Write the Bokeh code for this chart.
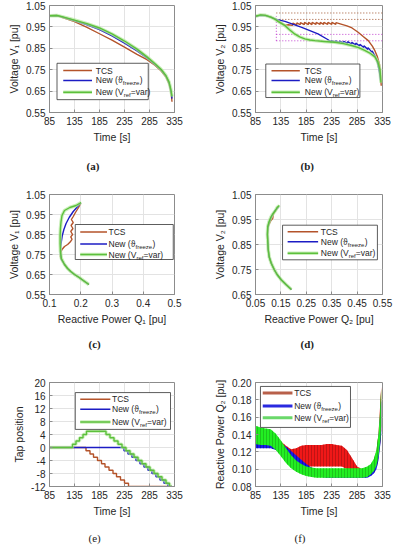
from bokeh.plotting import figure
from bokeh.layouts import gridplot
from bokeh.models import FixedTicker, PrintfTickFormatter, Title
from bokeh.core.properties import value
from bokeh.embed import file_html
from bokeh.resources import INLINE

# ---------------- data ----------------
# (a) Voltage V1 vs time
time_a = [85, 100, 110, 135, 160, 185, 210, 235, 260, 280, 295, 308, 318, 324, 327, 329, 330]
v1_tcs = [1.002, 1.003, 0.995, 0.975, 0.948, 0.918, 0.888, 0.855, 0.822, 0.797, 0.772, 0.745, 0.715, 0.685, 0.655, 0.625, 0.600]
v1_frz = [1.002, 1.003, 0.997, 0.980, 0.960, 0.937, 0.908, 0.874, 0.838, 0.805, 0.777, 0.750, 0.720, 0.690, 0.660, 0.635, 0.615]
v1_var = [1.002, 1.003, 0.998, 0.982, 0.965, 0.945, 0.917, 0.884, 0.846, 0.810, 0.780, 0.752, 0.722, 0.693, 0.665, 0.640, 0.625]

# (b) Voltage V2 vs time
time_b_tcs = [85, 95, 105, 115, 126, 135, 143, 150, 158, 158.5, 166, 166.5, 173, 173.5, 181, 181.5, 189, 189.5,
              196, 196.5, 204, 204.5, 212, 212.5, 219, 219.5, 227, 227.5, 235, 235.5, 243, 243.5, 255, 265,
              275, 287, 297, 307, 315, 320, 325, 329, 331, 332.5]
v2_tcs = [1.000, 1.005, 1.003, 0.996, 0.984, 0.970, 0.958, 0.960, 0.957, 0.968, 0.959, 0.969, 0.960, 0.970, 0.961, 0.971,
          0.961, 0.971, 0.961, 0.971, 0.962, 0.971, 0.962, 0.971, 0.962, 0.971, 0.962, 0.971, 0.962, 0.971, 0.962, 0.970,
          0.962, 0.955, 0.945, 0.925, 0.905, 0.886, 0.860, 0.839, 0.810, 0.776, 0.730, 0.675]
time_b_frz = [85, 95, 105, 115, 126, 143, 176, 208, 228, 234, 234.5, 242, 242.5, 250, 250.5, 258, 258.5, 266, 266.5,
              274, 274.5, 282, 282.5, 290, 290.5, 298, 298.5, 306, 306.5, 314, 314.5, 320, 323, 326, 329, 331]
v2_frz = [1.000, 1.004, 1.003, 0.996, 0.985, 0.976, 0.948, 0.917, 0.890, 0.878, 0.886, 0.877, 0.885, 0.876, 0.884,
          0.875, 0.883, 0.873, 0.881, 0.870, 0.878, 0.866, 0.874, 0.861, 0.869, 0.854, 0.862, 0.845, 0.853, 0.832,
          0.838, 0.815, 0.800, 0.775, 0.740, 0.700]
time_b_var = [85, 95, 105, 115, 122, 130, 143, 152, 162, 172, 182, 192, 202, 220, 241, 258, 274, 288, 300, 310, 320, 326, 330, 332]
v2_var = [1.000, 1.006, 1.004, 0.996, 0.988, 0.975, 0.956, 0.937, 0.917, 0.903, 0.894, 0.889, 0.886, 0.882, 0.878,
          0.872, 0.863, 0.853, 0.840, 0.828, 0.810, 0.785, 0.750, 0.690]
# deadband limits in (b)
band_time = [126, 335]
tcs_upper = [1.015, 1.015]
tcs_lower = [0.985, 0.985]
new_upper = [0.915, 0.915]
new_lower = [0.885, 0.885]
new_marker_v = [0.885, 1.0]

# (c) V1 vs Q1
q1_tcs = [0.200, 0.193, 0.183, 0.176, 0.170, 0.176, 0.169, 0.175, 0.168, 0.174, 0.168, 0.172, 0.166, 0.158, 0.148,
          0.140, 0.136, 0.135, 0.138, 0.148, 0.158, 0.168, 0.180, 0.195, 0.208, 0.217, 0.226]
v1c_tcs = [1.008, 0.985, 0.960, 0.940, 0.925, 0.910, 0.895, 0.880, 0.865, 0.850, 0.838, 0.826, 0.812, 0.800, 0.790,
           0.775, 0.760, 0.740, 0.725, 0.700, 0.680, 0.665, 0.650, 0.635, 0.620, 0.610, 0.600]
q1_frz = [0.200, 0.190, 0.176, 0.163, 0.153, 0.146, 0.141, 0.138, 0.136, 0.135, 0.138, 0.148, 0.158, 0.168, 0.180, 0.195, 0.208, 0.217, 0.226]
v1c_frz = [1.008, 0.990, 0.965, 0.935, 0.905, 0.875, 0.845, 0.815, 0.785, 0.755, 0.725, 0.700, 0.680, 0.665, 0.650, 0.635, 0.620, 0.610, 0.600]
q1_var = [0.201, 0.185, 0.165, 0.148, 0.140, 0.137, 0.135, 0.134, 0.134, 0.135, 0.138, 0.148, 0.158, 0.168, 0.180, 0.195, 0.208, 0.217, 0.226]
v1c_var = [1.010, 0.995, 0.985, 0.970, 0.945, 0.915, 0.880, 0.845, 0.805, 0.765, 0.730, 0.700, 0.680, 0.665, 0.650, 0.635, 0.620, 0.610, 0.600]

# (d) V2 vs Q2
q2_tcs = [0.140, 0.128, 0.120, 0.118, 0.110, 0.104, 0.099, 0.097, 0.098, 0.100, 0.104, 0.112, 0.124, 0.135, 0.151, 0.170, 0.191]
v2d_tcs = [1.000, 0.985, 0.970, 0.955, 0.945, 0.932, 0.918, 0.890, 0.868, 0.830, 0.800, 0.775, 0.749, 0.730, 0.709, 0.690, 0.670]
q2_frz = [0.140, 0.126, 0.114, 0.106, 0.101, 0.098, 0.097, 0.098, 0.100, 0.104, 0.112, 0.124, 0.135, 0.151, 0.170, 0.191]
v2d_frz = [1.000, 0.985, 0.965, 0.945, 0.930, 0.915, 0.890, 0.868, 0.830, 0.800, 0.775, 0.749, 0.730, 0.709, 0.690, 0.670]
q2_var = [0.144, 0.135, 0.128, 0.118, 0.111, 0.103, 0.098, 0.097, 0.098, 0.100, 0.104, 0.112, 0.124, 0.135, 0.151, 0.170, 0.191]
v2d_var = [1.006, 0.998, 0.985, 0.972, 0.960, 0.940, 0.920, 0.890, 0.868, 0.830, 0.800, 0.775, 0.749, 0.730, 0.709, 0.690, 0.670]

# (e) tap position
tap_time_tcs = [85, 158, 166, 173, 181, 189, 196, 204, 212, 219, 227, 235, 243, 330]
tap_tcs = [0, -1, -2, -3, -4, -5, -6, -7, -8, -9, -10, -11, -12, -12]
tap_time_frz = [85, 234, 242, 250, 258, 266, 274, 282, 290, 298, 306, 314, 322, 330]
tap_frz = [0, -1, -2, -3, -4, -5, -6, -7, -8, -9, -10, -11, -12, -12]
tap_time_var = [85, 131, 138, 145, 152, 159, 198, 206, 214, 222, 230, 238, 246, 254, 262, 270, 278, 286, 294, 302, 310, 318, 325, 330]
tap_var = [0, 1, 2, 3, 4, 5, 4, 3, 2, 1, 0, -1, -2, -3, -4, -5, -6, -7, -8, -9, -10, -11, -12, -12]

# (f) reactive power Q2 (oscillation envelopes)
time_f = [85, 95, 105, 115, 125, 135, 145, 155, 165, 175, 185, 195, 205, 215, 225, 235, 245, 255, 265, 275, 285, 295,
          305, 312, 318, 323, 327, 330, 332.5]
q2f_tcs_lo = [0.125, 0.125, 0.125, 0.125, 0.123, 0.120, 0.113, 0.107, 0.103, 0.103, 0.103, 0.103, 0.103, 0.103, 0.103,
              0.103, 0.103, 0.103, 0.100, 0.096, 0.093, 0.091, 0.091, 0.093, 0.097, 0.103, 0.113, 0.128, 0.145]
q2f_tcs_hi = [0.140, 0.140, 0.139, 0.138, 0.136, 0.132, 0.127, 0.123, 0.124, 0.127, 0.128, 0.128, 0.128, 0.128, 0.129,
              0.129, 0.128, 0.127, 0.122, 0.113, 0.103, 0.100, 0.100, 0.104, 0.110, 0.121, 0.140, 0.170, 0.195]
q2f_frz_lo = [0.124, 0.124, 0.124, 0.124, 0.122, 0.118, 0.113, 0.108, 0.103, 0.099, 0.096, 0.093, 0.092, 0.091, 0.090,
              0.090, 0.090, 0.090, 0.090, 0.090, 0.090, 0.090, 0.090, 0.092, 0.095, 0.100, 0.110, 0.125, 0.140]
q2f_frz_hi = [0.136, 0.136, 0.135, 0.134, 0.133, 0.130, 0.126, 0.121, 0.116, 0.111, 0.106, 0.102, 0.100, 0.099, 0.098,
              0.098, 0.098, 0.098, 0.098, 0.098, 0.098, 0.098, 0.099, 0.102, 0.108, 0.118, 0.135, 0.160, 0.180]
q2f_var_lo = [0.129, 0.128, 0.128, 0.127, 0.122, 0.115, 0.107, 0.101, 0.097, 0.094, 0.092, 0.091, 0.090, 0.090, 0.090,
              0.090, 0.090, 0.090, 0.090, 0.090, 0.090, 0.090, 0.091, 0.094, 0.098, 0.104, 0.115, 0.130, 0.150]
q2f_var_hi = [0.150, 0.148, 0.147, 0.146, 0.141, 0.133, 0.124, 0.116, 0.110, 0.106, 0.103, 0.102, 0.101, 0.101, 0.101,
              0.101, 0.101, 0.101, 0.101, 0.101, 0.101, 0.101, 0.103, 0.106, 0.112, 0.122, 0.140, 0.165, 0.193]

# tick values
time_ticks = [85, 135, 185, 235, 285, 335]
v_ticks = [0.55, 0.65, 0.75, 0.85, 0.95, 1.05]
q1_ticks = [0.1, 0.2, 0.3, 0.4, 0.5]
q2_ticks = [0.05, 0.15, 0.25, 0.35, 0.45, 0.55]
v2d_ticks = [0.65, 0.75, 0.85, 0.95, 1.05]
tap_ticks = [-12, -8, -4, 0, 4, 8, 12, 16, 20]
q2f_ticks = [0.08, 0.10, 0.12, 0.14, 0.16, 0.18, 0.20]

# ---------------- style ----------------
FONT = "Liberation Sans"
TCS_C = "#b4532a"
BLUE_C = "#1c1cc4"
GREEN_C = "#5cc03c"
GREEN_HALO = "#b4e89c"
TXT = "#262626"
FRAME = "#8c8c8c"

W1, W2 = 198, 200


def make_fig(w, h, bl, br, bt, bb, xr, yr, xticks, yticks, xfmt, yfmt, xlabel, ylabel):
    p = figure(width=w, height=h, x_range=xr, y_range=yr, output_backend="svg",
               toolbar_location=None, title=None,
               min_border_left=bl, min_border_right=br, min_border_top=bt, min_border_bottom=bb)
    p.background_fill_color = "white"
    p.border_fill_color = "white"
    p.outline_line_color = FRAME
    p.outline_line_width = 1
    for ax, ticks, fmt, lab in ((p.xaxis, xticks, xfmt, xlabel), (p.yaxis, yticks, yfmt, ylabel)):
        ax.ticker = FixedTicker(ticks=ticks)
        ax.formatter = PrintfTickFormatter(format=fmt)
        ax.axis_label = lab
        ax.axis_label_text_font = FONT
        ax.axis_label_text_font_size = "10.5px"
        ax.axis_label_text_font_style = "normal"
        ax.axis_label_text_color = TXT
        ax.major_label_text_font = FONT
        ax.major_label_text_font_size = "10px"
        ax.major_label_text_color = TXT
        ax.axis_line_color = FRAME
        ax.major_tick_line_color = FRAME
        ax.major_tick_in = 3
        ax.major_tick_out = 0
        ax.minor_tick_line_color = None
        ax.major_label_standoff = 4
        ax.axis_label_standoff = 3
    p.xgrid.ticker = FixedTicker(ticks=xticks)
    p.ygrid.ticker = FixedTicker(ticks=yticks)
    p.xgrid.grid_line_color = "#e3e3e3"
    p.ygrid.grid_line_color = "#e3e3e3"
    return p


def fx(r, f):
    return r[0] + f * (r[1] - r[0])


def fy(r, f):
    return r[1] - f * (r[1] - r[0])


LABEL_TCS = [("TCS", 0, 0, "8.5px")]
LABEL_FRZ = [("New (ϑ", 0, 0, "8.5px"), ("freeze", 27, 3, "6px"), (")", 44, 0, "8.5px")]
LABEL_VAR = [("New (V", 0, 0, "8.5px"), ("ref", 28, 3, "6px"), ("=var)", 35, 0, "8.5px")]


def add_legend(p, xr, yr, box, sw, tx, ys, colors, halo=True, sw_width=1.5):
    p.quad(left=fx(xr, box[0]), right=fx(xr, box[1]), top=fy(yr, box[2]), bottom=fy(yr, box[3]),
           fill_color="white", line_color="#333333", line_width=0.8)
    labels = [LABEL_TCS, LABEL_FRZ, LABEL_VAR]
    for i, (col, yy, pieces) in enumerate(zip(colors, ys, labels)):
        y = fy(yr, yy)
        if halo and i == 2:
            p.segment(fx(xr, sw[0]), y, fx(xr, sw[1]), y, line_color=GREEN_HALO, line_width=3.5, line_alpha=0.7)
        p.segment(fx(xr, sw[0]), y, fx(xr, sw[1]), y, line_color=col, line_width=sw_width)
        for txt, dx, dy, size in pieces:
            p.text(x=[fx(xr, tx)], y=[y], text=[txt], x_offset=dx, y_offset=dy,
                   text_font=value(FONT), text_font_size=size, text_color=TXT,
                   text_baseline="middle", text_align="left")


def caption(p, text, offset, gap, bold=True):
    # an empty spacer title pushes the caption further below the axis label
    p.add_layout(Title(text="\u00a0", text_font_size=f"{gap}px", text_font=FONT, standoff=0), "below")
    p.add_layout(Title(text=text, align="left", offset=offset,
                       text_font="Liberation Serif", text_font_size="11px",
                       text_font_style="bold" if bold else "normal", text_color="#222222"), "below")


def draw_lines(p, series):
    for xs, ys, col, halo in series:
        if halo:
            p.line(xs, ys, line_color=GREEN_HALO, line_width=3.5, line_alpha=0.7)
        p.line(xs, ys, line_color=col, line_width=1.4)


# ---------------- (a) ----------------
xr_t = (85, 335)
yr_v = (0.55, 1.05)
pa = make_fig(W1, 182, 49, 21, 5, 70, xr_t, yr_v, time_ticks, v_ticks, "%d", "%.2f", "Time [s]", "Voltage V₁ [pu]")
draw_lines(pa, [(time_a, v1_tcs, TCS_C, False), (time_a, v1_frz, BLUE_C, False), (time_a, v1_var, GREEN_C, True)])
add_legend(pa, xr_t, yr_v, (0.06, 0.79, 0.54, 0.88), (0.11, 0.34), 0.37, (0.608, 0.70, 0.81),
           (TCS_C, BLUE_C, GREEN_C))
caption(pa, "(a)", 37, 4)

# ---------------- (b) ----------------
pb = make_fig(W2, 182, 57, 16, 5, 70, xr_t, yr_v, time_ticks, v_ticks, "%d", "%.2f", "Time [s]", "Voltage V₂ [pu]")
pb.line(band_time, tcs_upper, line_color="#a0522d", line_dash="1 2", line_width=1)
pb.line(band_time, tcs_lower, line_color="#a0522d", line_dash="1 2", line_width=1)
pb.line(band_time, new_upper, line_color="#c040d0", line_dash="1 2", line_width=1)
pb.line(band_time, new_lower, line_color="#c040d0", line_dash="1 2", line_width=1)
pb.line([band_time[0], band_time[0]], new_marker_v, line_color="#c040d0", line_dash="1 2", line_width=1)
draw_lines(pb, [(time_b_tcs, v2_tcs, TCS_C, False), (time_b_frz, v2_frz, BLUE_C, False),
                (time_b_var, v2_var, GREEN_C, True)])
add_legend(pb, xr_t, yr_v, (0.081, 0.822, 0.547, 0.86), (0.126, 0.349), 0.388, (0.61, 0.70, 0.81),
           (TCS_C, BLUE_C, GREEN_C))
caption(pb, "(b)", 45, 4)

# ---------------- (c) ----------------
xr_q1 = (0.1, 0.5)
pc = make_fig(W1, 184, 49, 24, 12, 72, xr_q1, yr_v, q1_ticks, v_ticks, "%.1f", "%.2f",
              "Reactive Power Q₁ [pu]", "Voltage V₁ [pu]")
draw_lines(pc, [(q1_tcs, v1c_tcs, TCS_C, False), (q1_frz, v1c_frz, BLUE_C, False), (q1_var, v1c_var, GREEN_C, True)])
add_legend(pc, xr_q1, yr_v, (0.206, 0.99, 0.30, 0.65), (0.246, 0.46), 0.472, (0.374, 0.494, 0.60),
           (TCS_C, BLUE_C, GREEN_C))
caption(pc, "(c)", 39, 1)

# ---------------- (d) ----------------
xr_q2 = (0.05, 0.55)
yr_v2 = (0.65, 1.05)
pd_ = make_fig(W2, 184, 57, 16, 12, 72, xr_q2, yr_v2, q2_ticks, v2d_ticks, "%.2f", "%.2f",
               "Reactive Power Q₂ [pu]", "Voltage V₂ [pu]")
draw_lines(pd_, [(q2_tcs, v2d_tcs, TCS_C, False), (q2_frz, v2d_frz, BLUE_C, False), (q2_var, v2d_var, GREEN_C, True)])
add_legend(pd_, xr_q2, yr_v2, (0.213, 0.96, 0.307, 0.653), (0.253, 0.493), 0.514, (0.373, 0.472, 0.587),
           (TCS_C, BLUE_C, GREEN_C))
caption(pd_, "(d)", 45, 1)

# ---------------- (e) ----------------
yr_tap = (-12, 20)
pe = make_fig(W1, 183, 49, 24, 16, 63, xr_t, yr_tap, time_ticks, tap_ticks, "%d", "%d", "Time [s]", "Tap position")
pe.step(tap_time_tcs, tap_tcs, mode="after", line_color=TCS_C, line_width=1.4)
pe.step(tap_time_frz, tap_frz, mode="after", line_color=BLUE_C, line_width=1.4)
pe.step(tap_time_var, tap_var, mode="after", line_color=GREEN_HALO, line_width=3.5, line_alpha=0.6)
pe.step(tap_time_var, tap_var, mode="after", line_color=GREEN_C, line_width=1.4)
add_legend(pe, xr_t, yr_tap, (0.206, 0.968, 0.097, 0.451), (0.246, 0.487), 0.50, (0.161, 0.258, 0.38),
           (TCS_C, BLUE_C, GREEN_C))
caption(pe, "(e)", 39, 3, bold=False)

# ---------------- (f) ----------------
yr_qf = (0.08, 0.20)
pf = make_fig(W2, 183, 57, 16, 16, 63, xr_t, yr_qf, time_ticks, q2f_ticks, "%d", "%.2f", "Time [s]",
              "Reactive Power Q₂ [pu]")
pf.varea(time_f, q2f_tcs_lo, q2f_tcs_hi, fill_color="#f01818", hatch_pattern="|", hatch_color="#a01010",
         hatch_scale=3, hatch_weight=0.6)
pf.varea(time_f, q2f_frz_lo, q2f_frz_hi, fill_color="#1818f0", hatch_pattern="|", hatch_color="#101070",
         hatch_scale=3, hatch_weight=0.6)
pf.varea(time_f, q2f_var_lo, q2f_var_hi, fill_color="#22ee22", hatch_pattern="|", hatch_color="#18a818",
         hatch_scale=3, hatch_weight=0.6)
add_legend(pf, xr_t, yr_qf, (0.039, 0.748, 0.038, 0.432), (0.057, 0.291), 0.305, (0.101, 0.227, 0.338),
           ("#b8604a", "#2a2ae0", "#6ad86a"), halo=False, sw_width=3)
caption(pf, "(f)", 39, 3, bold=False)

grid = gridplot([[pa, pb], [pc, pd_], [pe, pf]], toolbar_location=None)
open("out.html", "w").write(file_html(grid, INLINE))
